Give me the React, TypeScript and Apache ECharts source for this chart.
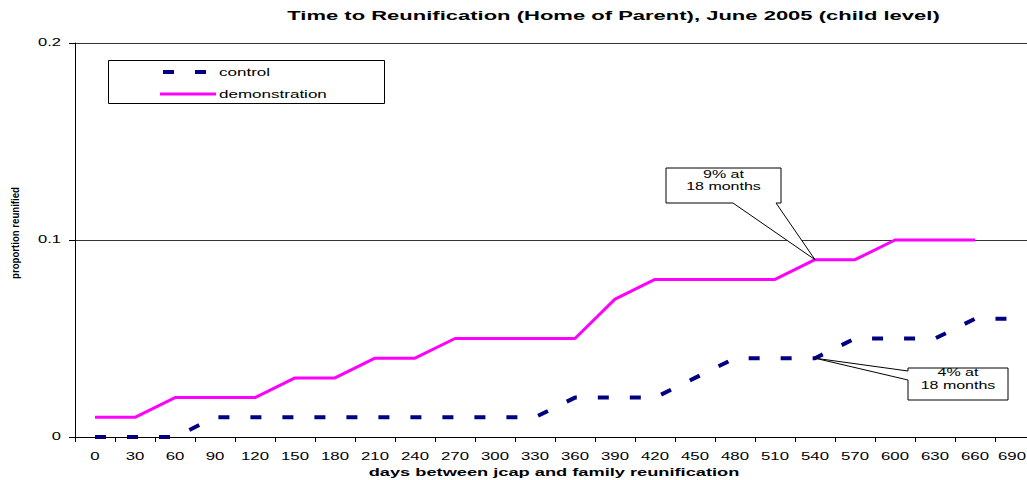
import React, { useEffect, useRef } from "react";
import * as echarts from "echarts";

const categories = ["0","30","60","90","120","150","180","210","240","270","300","330","360","390","420","450","480","510","540","570","600","630","660","690"];
const controlValues = [0,0,0,0.01,0.01,0.01,0.01,0.01,0.01,0.01,0.01,0.01,0.02,0.02,0.02,0.03,0.04,0.04,0.04,0.05,0.05,0.05,0.06,0.06];
const demonstrationValues: (number | null)[] = [0.01,0.01,0.02,0.02,0.02,0.03,0.03,0.04,0.04,0.05,0.05,0.05,0.05,0.07,0.08,0.08,0.08,0.08,0.09,0.09,0.1,0.1,0.1,null];
const yTickValues = [0, 0.1, 0.2];
const yTickLabels = ["0", "0.1", "0.2"];
const seriesNames = ["control", "demonstration"];
const annotationIndex = 18; // 540 days = 18 months
const titleText = "Time to Reunification (Home of Parent), June 2005 (child level)";
const xAxisName = "days between jcap and family reunification";
const yAxisName = "proportion reunified";

const FONT = "Liberation Sans";
const CONTROL_COLOR = "#000080";
const DEMO_COLOR = "#FF00FF";
const GRID_LEFT = 75;
const PAGE_W = 1027;

export default function App() {
  const ref = useRef<HTMLDivElement>(null);
  useEffect(() => {
    const chart = echarts.init(ref.current!, null, { renderer: "svg" });
    const ctx = document.createElement("canvas").getContext("2d")!;
    const measure = (t: string, size: number, weight: string) => {
      ctx.font = `${weight} ${size}px "${FONT}"`;
      return ctx.measureText(t).width;
    };
    const fit = (t: string, size: number, weight: string, target: number) => target / measure(t, size, weight);

    chart.setOption({
      animation: false,
      backgroundColor: "#fff",
      textStyle: { fontFamily: FONT },
      grid: { left: GRID_LEFT, width: 960, top: 43, bottom: 43, containLabel: false, outerBoundsMode: "none" },
      xAxis: {
        type: "category",
        data: categories,
        boundaryGap: true,
        axisLine: { lineStyle: { color: "#000", width: 1 } },
        axisTick: { show: true, interval: 0, length: 5, lineStyle: { color: "#000" } },
        axisLabel: { show: false },
        splitLine: { show: false },
      },
      yAxis: {
        type: "value",
        min: 0,
        max: 0.2,
        interval: 0.1,
        axisLine: { show: true, lineStyle: { color: "#000", width: 1 } },
        axisTick: { show: true, length: 6, lineStyle: { color: "#000" } },
        axisLabel: { show: false },
        splitLine: { show: true, lineStyle: { color: "#333", width: 1 } },
      },
      series: [
        {
          name: seriesNames[0],
          type: "line",
          data: controlValues,
          symbol: "none",
          color: CONTROL_COLOR,
          lineStyle: { color: CONTROL_COLOR, width: 4, type: [11, 21] },
          z: 2,
        },
        {
          name: seriesNames[1],
          type: "line",
          data: demonstrationValues,
          symbol: "none",
          color: DEMO_COLOR,
          lineStyle: { color: DEMO_COLOR, width: 3 },
          z: 3,
        },
      ],
    });

    const pDemo = chart.convertToPixel({ seriesIndex: 1 }, [annotationIndex, demonstrationValues[annotationIndex] as number]) as number[];
    const pCtrl = chart.convertToPixel({ seriesIndex: 0 }, [annotationIndex, controlValues[annotationIndex]]) as number[];
    const axisY = chart.convertToPixel({ yAxisIndex: 0 }, 0) as number;

    const graphics: any[] = [];
    const text = (t: string, x: number, y: number, size: number, weight: string, scaleX: number, align: string, extra: any = {}) => ({
      type: "text",
      x,
      y,
      scaleX,
      z: 50,
      style: { text: t, fontFamily: FONT, fontSize: size, fontWeight: weight, fill: "#000", align, verticalAlign: "middle" },
      ...extra,
    });

    // title
    graphics.push(text(titleText, 613.5, 16, 12.5, "bold", fit(titleText, 12.5, "bold", 653), "center"));
    // x axis name
    graphics.push(text(xAxisName, 554, 472, 11, "bold", fit(xAxisName, 11, "bold", 371), "center"));
    // y axis name (rotated)
    graphics.push(text(yAxisName, 15, 233, 10, "bold", fit(yAxisName, 10, "bold", 92), "center", { rotation: Math.PI / 2 }));
    // x tick labels
    const tickScale = 1.6;
    categories.forEach((c, i) => {
      const px = chart.convertToPixel({ xAxisIndex: 0 }, i) as number;
      const w = measure(c, 10.5, "normal") * tickScale;
      if (px + w / 2 > PAGE_W - 1) {
        graphics.push(text(c, PAGE_W - 1, axisY + 19, 10.5, "normal", tickScale, "right"));
      } else {
        graphics.push(text(c, px, axisY + 19, 10.5, "normal", tickScale, "center"));
      }
    });
    // y tick labels
    yTickValues.forEach((v, i) => {
      const py = chart.convertToPixel({ yAxisIndex: 0 }, v) as number;
      graphics.push(text(yTickLabels[i], GRID_LEFT - 14, py, 10, "normal", 1.65, "right"));
    });

    // legend
    graphics.push({
      type: "rect",
      shape: { x: 108.5, y: 60.5, width: 276, height: 43 },
      style: { fill: "none", stroke: "#000", lineWidth: 1 },
      z: 40,
    });
    graphics.push({
      type: "line",
      shape: { x1: 163, y1: 72, x2: 206, y2: 72 },
      style: { stroke: CONTROL_COLOR, lineWidth: 4, lineDash: [11, 21] },
      z: 41,
    });
    graphics.push({
      type: "line",
      shape: { x1: 160, y1: 94, x2: 216, y2: 94 },
      style: { stroke: DEMO_COLOR, lineWidth: 3 },
      z: 41,
    });
    const legScale = fit(seriesNames[1], 11.5, "normal", 108);
    graphics.push(text(seriesNames[0], 219, 72, 11.5, "normal", legScale, "left"));
    graphics.push(text(seriesNames[1], 219, 94, 11.5, "normal", legScale, "left"));

    // callouts
    const b1 = { x0: 666, y0: 168, x1: 781, y1: 203 };
    const b2 = { x0: 908, y0: 368, x1: 1008, y1: 400 };
    graphics.push({
      type: "polygon",
      shape: {
        points: [
          [b1.x0, b1.y0], [b1.x1, b1.y0], [b1.x1, b1.y1], [776, b1.y1],
          [pDemo[0], pDemo[1]], [733, b1.y1], [b1.x0, b1.y1],
        ],
      },
      style: { fill: "#fff", stroke: "#000", lineWidth: 1 },
      z: 100,
    });
    graphics.push(text("9% at", 723.5, 175, 10, "normal", 1.6, "center", { z: 101 }));
    graphics.push(text("18 months", 723.5, 187, 10, "normal", 1.6, "center", { z: 101 }));
    graphics.push({
      type: "polygon",
      shape: {
        points: [
          [b2.x0, b2.y0], [b2.x1, b2.y0], [b2.x1, b2.y1], [b2.x0, b2.y1],
          [b2.x0, 380], [pCtrl[0], pCtrl[1]], [b2.x0, 371],
        ],
      },
      style: { fill: "#fff", stroke: "#000", lineWidth: 1 },
      z: 100,
    });
    graphics.push(text("4% at", 958, 373, 10, "normal", 1.6, "center", { z: 101 }));
    graphics.push(text("18 months", 958, 386, 10, "normal", 1.6, "center", { z: 101 }));

    chart.setOption({ graphic: graphics });

    return () => chart.dispose();
  }, []);
  return <div ref={ref} style={{ position: "fixed", left: 0, top: 0, width: 1027, height: 480 }} />;
}
